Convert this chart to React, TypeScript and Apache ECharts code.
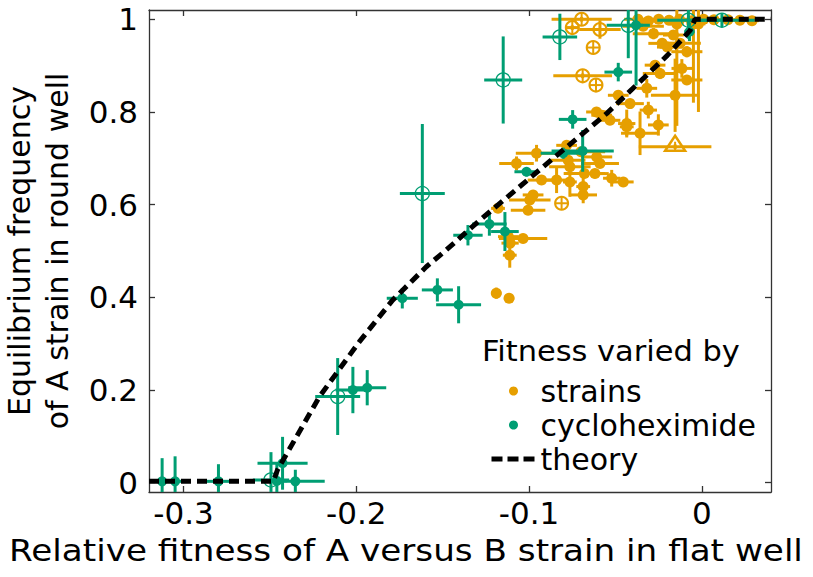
import { useRef, useEffect } from 'react'
import * as echarts from 'echarts'

const ORANGE = '#E69F00'
const GREEN = '#009E73'
const FONT = '"DejaVu Sans", sans-serif'

// every point: [x, y, xErr, yErr]
const strainsFilled = [
  [-0.037, 1.0, 0.008, 0.01], [-0.031, 0.996, 0.006, 0.01], [-0.025, 1.0, 0.006, 0.01],
  [-0.019, 0.998, 0.006, 0.01], [-0.013, 1.0, 0.006, 0.01], [-0.006, 0.997, 0.005, 0.01],
  [0.001, 1.0, 0.005, 0.008], [0.007, 0.999, 0.005, 0.008], [0.015, 0.999, 0.005, 0.008],
  [0.022, 0.998, 0.005, 0.008], [0.029, 0.997, 0.004, 0.008],
  [-0.034, 0.985, 0.012, 0.01], [-0.028, 0.969, 0.012, 0.012], [-0.023, 0.948, 0.008, 0.01],
  [-0.0165, 0.966, 0.006, 0.01], [-0.0126, 0.948, 0.012, 0.01], [-0.02, 0.94, 0.006, 0.01],
  [-0.0087, 0.93, 0.009, 0.012], [-0.0145, 0.99, 0.004, 0.22], [-0.0049, 0.99, 0.004, 0.17],
  [-0.002, 0.99, 0.004, 0.19],
  [-0.0116, 0.894, 0.006, 0.02], [-0.0087, 0.869, 0.009, 0.01], [-0.0155, 0.836, 0.014, 0.079],
  [-0.0242, 0.883, 0.01, 0.012], [-0.0271, 0.901, 0.006, 0.01], [-0.0319, 0.851, 0.006, 0.02],
  [-0.031, 0.804, 0.005, 0.018], [-0.0416, 0.818, 0.008, 0.01], [-0.0484, 0.836, 0.006, 0.01],
  [-0.0252, 0.772, 0.006, 0.023], [-0.0358, 0.754, 0.011, 0.047], [-0.0435, 0.775, 0.005, 0.03],
  [-0.061, 0.8, 0.006, 0.01], [-0.058, 0.793, 0.006, 0.01], [-0.0532, 0.782, 0.006, 0.01],
  [-0.0435, 0.768, 0.004, 0.02],
  [-0.0522, 0.657, 0.005, 0.018], [-0.0455, 0.649, 0.006, 0.008], [-0.0609, 0.703, 0.009, 0.01],
  [-0.059, 0.689, 0.011, 0.01], [-0.0619, 0.667, 0.008, 0.01], [-0.0687, 0.639, 0.004, 0.036],
  [-0.0687, 0.621, 0.008, 0.01], [-0.0764, 0.649, 0.004, 0.032], [-0.0841, 0.653, 0.009, 0.028],
  [-0.0928, 0.653, 0.008, 0.01], [-0.0774, 0.696, 0.01, 0.015], [-0.0764, 0.682, 0.012, 0.01],
  [-0.0783, 0.728, 0.006, 0.01], [-0.07, 0.714, 0.014, 0.01], [-0.068, 0.667, 0.012, 0.01],
  [-0.0957, 0.711, 0.012, 0.018], [-0.1073, 0.689, 0.01, 0.015], [-0.1006, 0.588, 0.01, 0.01],
  [-0.0996, 0.61, 0.012, 0.01], [-0.0977, 0.621, 0.006, 0.01], [-0.118, 0.592, 0.004, 0.01],
  [-0.1035, 0.527, 0.014, 0.01], [-0.112, 0.531, 0.006, 0.01], [-0.111, 0.517, 0.005, 0.01],
  [-0.1112, 0.491, 0.004, 0.027], [-0.119, 0.409, 0.003, 0.012], [-0.1116, 0.398, 0.003, 0.01],
]
const strainsOpen = [
  [-0.0696, 1.0, 0.0174, 0.005], [-0.075, 0.982, 0.004, 0.005], [-0.059, 0.978, 0.012, 0.02],
  [-0.0629, 0.939, 0, 0], [-0.069, 0.878, 0.017, 0.005], [-0.0613, 0.858, 0, 0],
  [-0.0812, 0.603, 0, 0],
]
const strainsTriangle = [
  [-0.0155, 0.725, 0.021, 0.005],
]
const cycloFilled = [
  [-0.3124, 0.003, 0.004, 0.05], [-0.3049, 0.003, 0.004, 0.054], [-0.2798, 0.003, 0.008, 0.037],
  [-0.2427, 0.042, 0.0145, 0.057], [-0.2353, 0.003, 0.017, 0.025], [-0.246, 0.004, 0.006, 0.04],
  [-0.202, 0.2, 0.01, 0.05], [-0.1937, 0.205, 0.011, 0.038],
  [-0.1734, 0.398, 0.009, 0.022], [-0.1531, 0.416, 0.009, 0.025], [-0.1408, 0.384, 0.013, 0.04],
  [-0.1354, 0.534, 0.0085, 0.022], [-0.123, 0.558, 0.01, 0.025], [-0.114, 0.542, 0.008, 0.042],
  [-0.1015, 0.671, 0.007, 0.01], [-0.0803, 0.711, 0.013, 0.012], [-0.069, 0.716, 0.018, 0.045],
  [-0.0748, 0.784, 0.008, 0.02], [-0.0484, 0.886, 0.008, 0.02], [-0.0381, 0.987, 0.004, 0.13],
  [-0.0072, 0.973, 0.003, 0.02],
]
const cycloOpen = [
  [-0.2494, 0.006, 0.0105, 0.06], [-0.2108, 0.186, 0.013, 0.083], [-0.1618, 0.624, 0.013, 0.15],
  [-0.115, 0.869, 0.011, 0.094], [-0.0822, 0.962, 0.01, 0.05], [-0.0426, 0.987, 0.0125, 0.071],
  [-0.0078, 0.998, 0.018, 0.04], [0.0116, 0.998, 0.019, 0.015],
]
const theoryX = [-0.32, -0.248, -0.2456, -0.2213, -0.1982, -0.179, -0.1595, -0.148, -0.1296, -0.086, -0.055, -0.02, -0.0068, -0.004, 0.04]
const theoryY = [0.003, 0.003, 0.028, 0.186, 0.3045, 0.394, 0.466, 0.502, 0.563, 0.7, 0.797, 0.922, 0.976, 1.0, 1.0]
const xTicks = [-0.3, -0.2, -0.1, 0]
const yTicks = [0, 0.2, 0.4, 0.6, 0.8, 1]

// kind: 0 filled dot, 1 open circle with plus, 2 open triangle
const withKind = (rows: number[][], kind: number) => rows.map(r => [...r, kind])

function pointRenderer(color: string, dotR: number, ringR: number, ringW: number) {
  return function (_params: any, api: any) {
    const x = api.value(0), y = api.value(1), dx = api.value(2), dy = api.value(3), kind = api.value(4)
    const c = api.coord([x, y])
    const bar = { stroke: color, lineWidth: 3 }
    const children: any[] = []
    if (dx > 0) {
      const l = api.coord([x - dx, y]), r = api.coord([x + dx, y])
      children.push({ type: 'line', shape: { x1: l[0], y1: c[1], x2: r[0], y2: c[1] }, style: bar })
    }
    if (dy > 0) {
      const t = api.coord([x, y + dy]), b = api.coord([x, y - dy])
      children.push({ type: 'line', shape: { x1: c[0], y1: t[1], x2: c[0], y2: b[1] }, style: bar })
    }
    const thin = { stroke: color, lineWidth: ringW, fill: 'none' }
    if (kind === 0) {
      children.push({ type: 'circle', shape: { cx: c[0], cy: c[1], r: dotR }, style: { fill: color } })
    } else if (kind === 1) {
      children.push({ type: 'circle', shape: { cx: c[0], cy: c[1], r: ringR }, style: thin })
      children.push({ type: 'line', shape: { x1: c[0] - ringR, y1: c[1], x2: c[0] + ringR, y2: c[1] }, style: thin })
      children.push({ type: 'line', shape: { x1: c[0], y1: c[1] - ringR, x2: c[0], y2: c[1] + ringR }, style: thin })
    } else {
      children.push({
        type: 'polygon',
        shape: { points: [[c[0], c[1] - 11], [c[0] - 10, c[1] + 4], [c[0] + 10, c[1] + 4]] },
        style: { stroke: color, lineWidth: 2.5, fill: 'none' },
      })
      children.push({ type: 'line', shape: { x1: c[0], y1: c[1] - 5, x2: c[0], y2: c[1] + 4 }, style: thin })
    }
    return { type: 'group', children }
  }
}

const frameLine = { color: '#333', width: 1.3 }

function xAx(position: string, labels: boolean) {
  return {
    type: 'value', position, min: -0.32, max: 0.04,
    axisLine: { show: true, onZero: false, lineStyle: frameLine },
    axisTick: { show: true, inside: true, length: 6, customValues: xTicks, lineStyle: frameLine },
    axisLabel: { show: labels, customValues: xTicks, fontSize: 31, color: '#000', margin: 5, fontFamily: FONT },
    splitLine: { show: false },
  }
}
function yAx(position: string, labels: boolean) {
  return {
    type: 'value', position, min: -0.02, max: 1.02,
    axisLine: { show: true, onZero: false, lineStyle: frameLine },
    axisTick: { show: true, inside: true, length: 6, customValues: yTicks, lineStyle: frameLine },
    axisLabel: { show: labels, customValues: yTicks, fontSize: 31, color: '#000', margin: 11, fontFamily: FONT },
    splitLine: { show: false },
  }
}

export default function App() {
  const cDom = useRef<HTMLDivElement>(null)

  useEffect(() => {
    if (!cDom.current) return
    const chart = echarts.init(cDom.current, null, { renderer: 'svg' })
    const title = { fill: '#000', align: 'center', verticalAlign: 'middle', textAlign: 'center', textVerticalAlign: 'middle' }
    chart.setOption({
      animation: false,
      backgroundColor: '#fff',
      textStyle: { fontFamily: FONT },
      grid: { left: 149, right: 42, top: 10, bottom: 85 },
      xAxis: [xAx('bottom', true), xAx('top', false)],
      yAxis: [yAx('left', true), yAx('right', false)],
      legend: {
        orient: 'vertical', left: 484, top: 371,
        itemWidth: 44, itemHeight: 9, itemGap: 4,
        textStyle: { fontSize: 30, color: '#000', fontFamily: FONT },
        data: [
          { name: 'strains', icon: 'circle' },
          { name: 'cycloheximide', icon: 'circle' },
          { name: 'theory', itemStyle: { opacity: 0 }, lineStyle: { width: 5, type: [11, 5], color: '#000' } },
        ],
      },
      graphic: [
        {
          type: 'text', x: 406, y: 551, scaleX: 1.14,
          style: { ...title, text: 'Relative fitness of A versus B strain in flat well', font: `30px ${FONT}` },
        },
        {
          type: 'text', x: 19, y: 251, rotation: Math.PI / 2,
          style: { ...title, text: 'Equilibrium frequency', font: `30px ${FONT}` },
        },
        {
          type: 'text', x: 57, y: 251, rotation: Math.PI / 2,
          style: { ...title, text: 'of A strain in round well', font: `30px ${FONT}` },
        },
        {
          type: 'text', x: 482, y: 351, scaleX: 1.05,
          style: { ...title, align: 'left', textAlign: 'left', text: 'Fitness varied by', font: `29px ${FONT}` },
        },
      ],
      series: [
        {
          name: 'strains', type: 'custom', clip: true, z: 2,
          itemStyle: { color: ORANGE },
          encode: { x: 0, y: 1 },
          renderItem: pointRenderer(ORANGE, 5.5, 6.5, 2),
          data: [...withKind(strainsFilled, 0), ...withKind(strainsOpen, 1), ...withKind(strainsTriangle, 2)],
        },
        {
          name: 'cycloheximide', type: 'custom', clip: true, z: 3,
          itemStyle: { color: GREEN },
          encode: { x: 0, y: 1 },
          renderItem: pointRenderer(GREEN, 5, 7, 1.3),
          data: [...withKind(cycloFilled, 0), ...withKind(cycloOpen, 1)],
        },
        {
          name: 'theory', type: 'line', z: 4, symbol: 'none', showSymbol: false,
          itemStyle: { color: '#000' },
          lineStyle: { color: '#000', width: 5, type: [10, 6] },
          data: theoryX.map((x, i) => [x, theoryY[i]]),
        },
      ],
    })
    return () => chart.dispose()
  }, [])

  return <div ref={cDom} style={{ position: 'fixed', left: 0, top: 0, width: 813, height: 577 }}></div>
}
